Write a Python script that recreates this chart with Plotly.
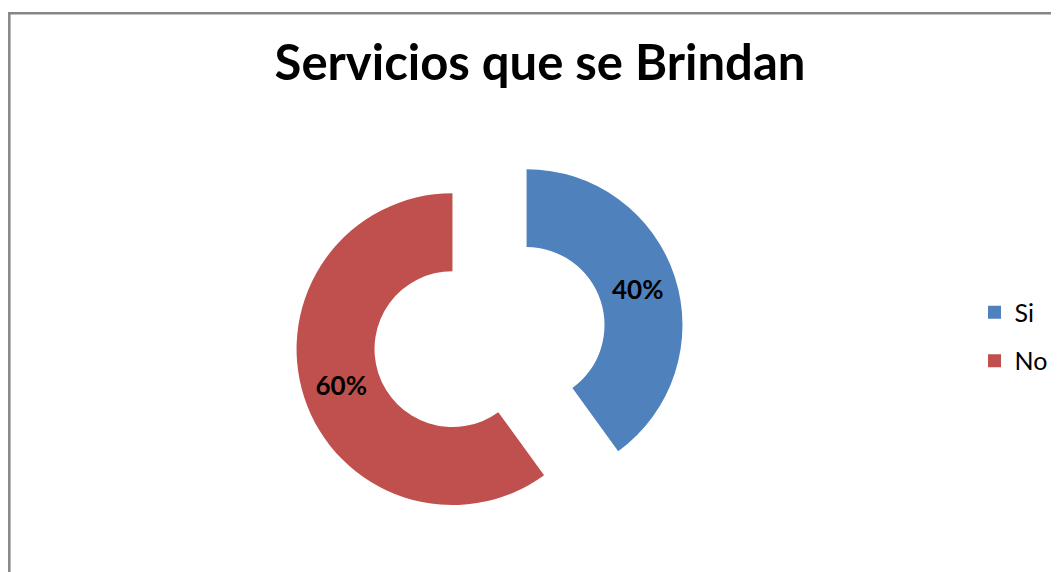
# Servicios que se Brindan - dona separada

import plotly.graph_objects as go

etiquetas = ["Si", "No"]
valores = [40, 60]
colores = ["#4F81BD", "#C0504D"]

# la pagina deja 8 px de margen al cuerpo, la figura ocupa el resto de la ventana
W, H = 1051, 564
fuente = "Lato"

fig = go.Figure()

fig.add_trace(go.Pie(
    labels=etiquetas,
    values=valores,
    sort=False,
    direction="clockwise",
    rotation=0,
    hole=0.5,
    pull=[0.25, 0.25],
    marker=dict(colors=colores, line=dict(width=0)),
    textinfo="percent",
    textposition="inside",
    insidetextorientation="horizontal",
    textfont=dict(family=fuente, size=26, color="black", weight="bold"),
    domain=dict(x=[0.2726, 0.6437], y=[0.071, 0.762]),
    showlegend=False,
    hoverinfo="label+percent",
))

# leyenda con separacion amplia entre entradas
for nombre, color in zip(etiquetas, colores):
    fig.add_trace(go.Scatter(
        x=[None], y=[None], mode="markers", name=nombre,
        legendgroup=nombre,
        marker=dict(symbol="square", size=13, color=color),
    ))

# marco del area del grafico (solo se ven borde superior e izquierdo)
fig.add_shape(type="rect", xref="paper", yref="paper",
              x0=1.3 / W, x1=1.05, y0=-0.05, y1=1 - 5.3 / H,
              line=dict(color="#868686", width=2.5))

fig.update_layout(
    width=W, height=H,
    margin=dict(l=0, r=0, t=0, b=0),
    paper_bgcolor="white",
    plot_bgcolor="white",
    title=dict(text="<b>Servicios que se Brindan</b>",
               x=532 / W, xanchor="center", y=1 - 55 / H, yanchor="middle",
               font=dict(family=fuente, size=49, color="black")),
    legend=dict(x=0.9196, y=0.4176, xanchor="left", yanchor="middle",
                font=dict(family=fuente, size=25, color="black"),
                tracegroupgap=13, bgcolor="rgba(0,0,0,0)"),
    xaxis=dict(visible=False),
    yaxis=dict(visible=False),
)

fig.write_html("out.html")
